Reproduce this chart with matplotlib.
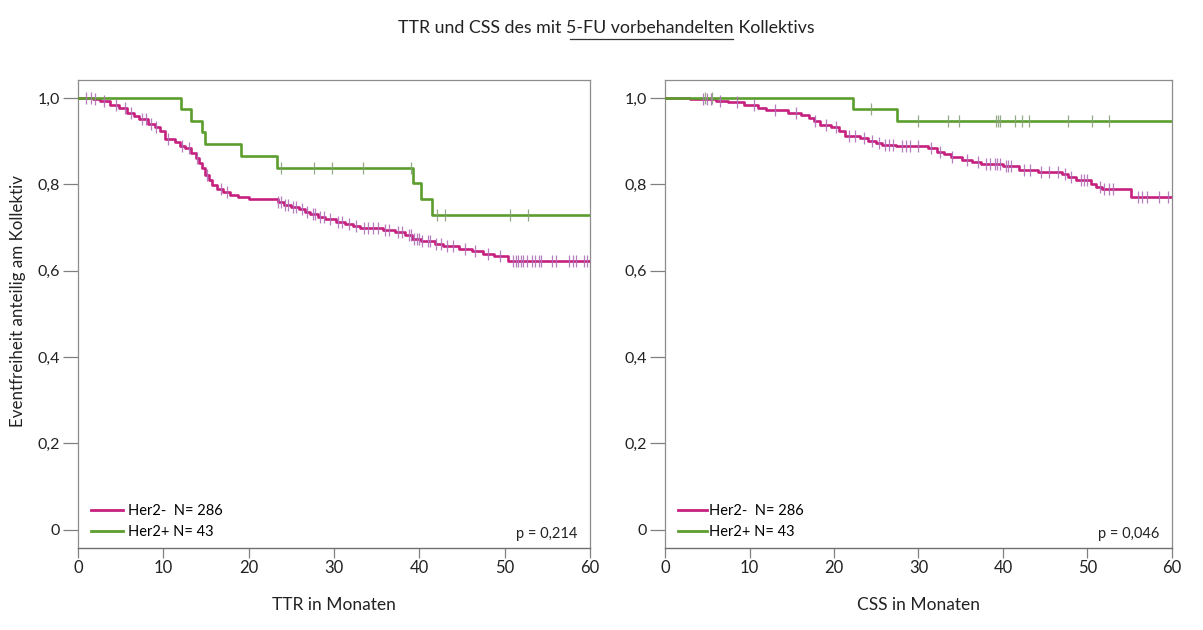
import numpy as np
import matplotlib
matplotlib.use('Agg')
import matplotlib.pyplot as plt
from matplotlib.lines import Line2D

plt.rcParams['font.family'] = ['Lato', 'DejaVu Sans']

# Kaplan-Meier Stufen (Monat, Anteil ereignisfrei)
ttr_neg_t = [0, 1.8, 2.6, 3.7, 4.8, 5.7, 6.6, 7.2, 8.2, 9.0, 9.6, 10.2, 11.4, 12.0, 12.6,
             13.3, 13.8, 14.2, 14.5, 14.9, 15.3, 15.7, 16.3, 17.0, 17.8, 18.7, 20.0, 23.4,
             24.1, 25.0, 25.9, 26.6, 27.2, 28.1, 29.0, 30.2, 31.3, 32.2, 33.1, 35.8, 37.1,
             38.3, 39.2, 40.2, 41.8, 42.8, 44.7, 46.2, 47.5, 48.8, 50.4, 60]
ttr_neg_s = [1.0, 0.997, 0.993, 0.985, 0.978, 0.966, 0.958, 0.951, 0.941, 0.934, 0.924,
             0.906, 0.899, 0.89, 0.884, 0.873, 0.862, 0.85, 0.838, 0.822, 0.81, 0.799,
             0.789, 0.782, 0.776, 0.77, 0.767, 0.76, 0.753, 0.747, 0.742, 0.737, 0.731,
             0.725, 0.72, 0.714, 0.708, 0.703, 0.699, 0.695, 0.689, 0.682, 0.674, 0.668,
             0.662, 0.657, 0.651, 0.645, 0.64, 0.634, 0.622, 0.622]
ttr_neg_cens = [1.0, 1.5, 2.0, 3.0, 4.5, 5.5, 6.2, 7.5, 8.0, 8.6, 9.1, 10.5, 12.2, 13.0,
                14.0, 15.1, 16.8, 17.5, 23.5, 23.8, 24.3, 24.6, 25.2, 25.5, 26.2, 26.9,
                27.5, 27.8, 28.4, 28.8, 29.5, 30.5, 31.0, 31.8, 32.6, 33.5, 34.0, 34.6,
                35.2, 36.0, 36.5, 37.5, 38.0, 38.8, 39.0, 39.4, 39.7, 40.0, 40.3, 41.0,
                41.3, 42.0, 42.5, 43.2, 44.0, 45.3, 46.5, 48.0, 49.5, 51.0, 51.3, 51.6,
                51.9, 52.2, 52.6, 53.2, 53.6, 54.0, 54.3, 55.6, 56.0, 57.5, 58.0, 58.4,
                59.3, 59.7]

ttr_pos_t = [0, 12.1, 13.2, 14.5, 14.9, 19.1, 23.3, 39.3, 40.2, 41.5, 60]
ttr_pos_s = [1.0, 0.974, 0.947, 0.921, 0.894, 0.866, 0.838, 0.803, 0.767, 0.729, 0.729]
ttr_pos_cens = [23.8, 27.7, 29.8, 33.4, 39.0, 42.1, 43.0, 50.6, 52.7]

css_neg_t = [0, 2.9, 6.0, 7.4, 9.4, 11.0, 11.9, 14.6, 16.1, 17.0, 17.6, 18.4, 19.7, 20.6,
             21.3, 23.1, 24.0, 25.0, 25.7, 27.3, 31.1, 32.2, 33.0, 33.8, 35.2, 36.3, 37.4,
             40.0, 41.9, 44.1, 47.0, 47.7, 48.6, 50.4, 51.0, 51.7, 55.1, 60]
css_neg_s = [1.0, 0.997, 0.993, 0.99, 0.985, 0.978, 0.972, 0.966, 0.96, 0.953, 0.946,
             0.937, 0.932, 0.924, 0.913, 0.908, 0.9, 0.895, 0.891, 0.888, 0.884, 0.876,
             0.87, 0.864, 0.856, 0.851, 0.847, 0.843, 0.834, 0.829, 0.824, 0.818, 0.81,
             0.8, 0.795, 0.789, 0.77, 0.77]
css_neg_cens = [4.5, 5.0, 5.5, 6.5, 8.5, 10.5, 13.0, 15.5, 17.8, 19.0, 20.2, 21.8, 22.5,
                23.5, 24.5, 25.3, 26.0, 26.5, 27.0, 28.0, 28.5, 29.0, 30.0, 31.5, 32.5,
                34.0, 35.8, 37.0, 38.0, 38.5, 39.0, 39.3, 39.7, 40.3, 40.6, 41.0, 42.5,
                43.2, 44.5, 45.5, 46.5, 47.3, 48.0, 49.2, 49.6, 50.0, 51.5, 52.0, 52.5,
                53.0, 56.0, 56.5, 57.0, 58.5, 59.5]

css_pos_t = [0, 22.2, 27.5, 60]
css_pos_s = [1.0, 0.974, 0.947, 0.947]
css_pos_cens = [4.7, 5.6, 24.4, 29.9, 33.5, 34.8, 39.2, 39.4, 39.6, 41.4, 42.3, 43.1,
                47.7, 50.5, 52.6]

labels = ['Her2-  N= 286', 'Her2+ N= 43']
yticks = [0, 0.2, 0.4, 0.6, 0.8, 1.0]
ytick_labels = ['0', '0,2', '0,4', '0,6', '0,8', '1,0']
xticks = [0, 10, 20, 30, 40, 50, 60]

c_neg = '#c6207e'
c_pos = '#5c9e2e'
c_neg_cens = '#b070b8'
c_pos_cens = '#88a07a'


def km(ax, t, s, cens, color, cens_color, label):
    ax.step(t, s, where='post', color=color, lw=1.9, label=label, zorder=3)
    t = np.asarray(t)
    s = np.asarray(s)
    idx = np.searchsorted(t, cens, side='right') - 1
    ax.plot(cens, s[idx], ls='none', marker='|', ms=8, mew=0.9,
            color=cens_color, alpha=0.9, zorder=4)


fig = plt.figure(figsize=(12.03, 6.30), dpi=100)
ax1 = fig.add_axes([0.0648, 0.1302, 0.4256, 0.7429])
ax2 = fig.add_axes([0.5528, 0.1302, 0.4214, 0.7429])

panels = [
    (ax1, ttr_neg_t, ttr_neg_s, ttr_neg_cens, ttr_pos_t, ttr_pos_s, ttr_pos_cens,
     'TTR in Monaten', 'p = 0,214', 2.2, 0.35),
    (ax2, css_neg_t, css_neg_s, css_neg_cens, css_pos_t, css_pos_s, css_pos_cens,
     'CSS in Monaten', 'p = 0,046', 2.0, 0.15),
]

for ax, nt, ns, nc, pt, ps, pc, xlabel, ptext, hlen, hpad in panels:
    km(ax, nt, ns, nc, c_neg, c_neg_cens, labels[0])
    km(ax, pt, ps, pc, c_pos, c_pos_cens, labels[1])
    ax.set_xlim(0, 60)
    ax.set_ylim(-0.042, 1.042)
    ax.set_xticks(xticks)
    ax.set_yticks(yticks)
    ax.set_yticklabels(ytick_labels)
    ax.tick_params(axis='y', direction='out', length=11, width=0.9, color='#808080',
                   pad=2, labelsize=11.5, labelcolor='#222222')
    ax.tick_params(axis='x', direction='out', length=7, width=0.9, color='#808080',
                   pad=2, labelsize=12, labelcolor='#222222')
    for side in ['top', 'right', 'left']:
        ax.spines[side].set_color('#8c8c8c')
        ax.spines[side].set_linewidth(0.9)
    ax.spines['bottom'].set_color('#707070')
    ax.spines['bottom'].set_linewidth(1.0)
    ax.set_xlabel(xlabel, fontsize=12.5, color='#222222', labelpad=15)
    ax.text(0.975, 0.015, ptext, transform=ax.transAxes, ha='right', va='bottom',
            fontsize=10.5, color='#222222')
    leg = ax.legend(loc='lower left', bbox_to_anchor=(0.005, -0.002), frameon=False,
                    fontsize=10.5, handlelength=hlen, handletextpad=hpad,
                    labelspacing=0.45, borderpad=0.2)
    for line in leg.get_lines():
        line.set_linewidth(2.0)

ax1.set_ylabel('Eventfreiheit anteilig am Kollektiv', fontsize=12.2, color='#222222')
ax1.yaxis.set_label_coords(-0.102, 0.527)

# Titel mit unterstrichenem Mittelteil
parts = ['TTR und CSS des mit ', '5-FU vorbehandelten', ' Kollektivs']
title_y = 0.947
title_fs = 12.8
fig.canvas.draw()
renderer = fig.canvas.get_renderer()
widths = []
for p in parts:
    tmp = fig.text(0, 0, p.replace(' ', '\u00a0'), fontsize=title_fs)
    widths.append(tmp.get_window_extent(renderer).width / fig.bbox.width)
    tmp.remove()
x = 0.504 - sum(widths) / 2
for p, w in zip(parts, widths):
    t = fig.text(x, title_y, p.replace(' ', '\u00a0'), fontsize=title_fs, ha='left',
                 va='baseline', color='#222222')
    if p == parts[1]:
        bb = t.get_window_extent(renderer)
        x0 = (bb.x0 + 4) / fig.bbox.width
        x1 = (bb.x1 - 1) / fig.bbox.width
        fig.add_artist(Line2D([x0, x1], [title_y - 0.009, title_y - 0.009],
                              transform=fig.transFigure, color='#333333', lw=0.9))
    x += w

fig.savefig('out.png', dpi=100)
